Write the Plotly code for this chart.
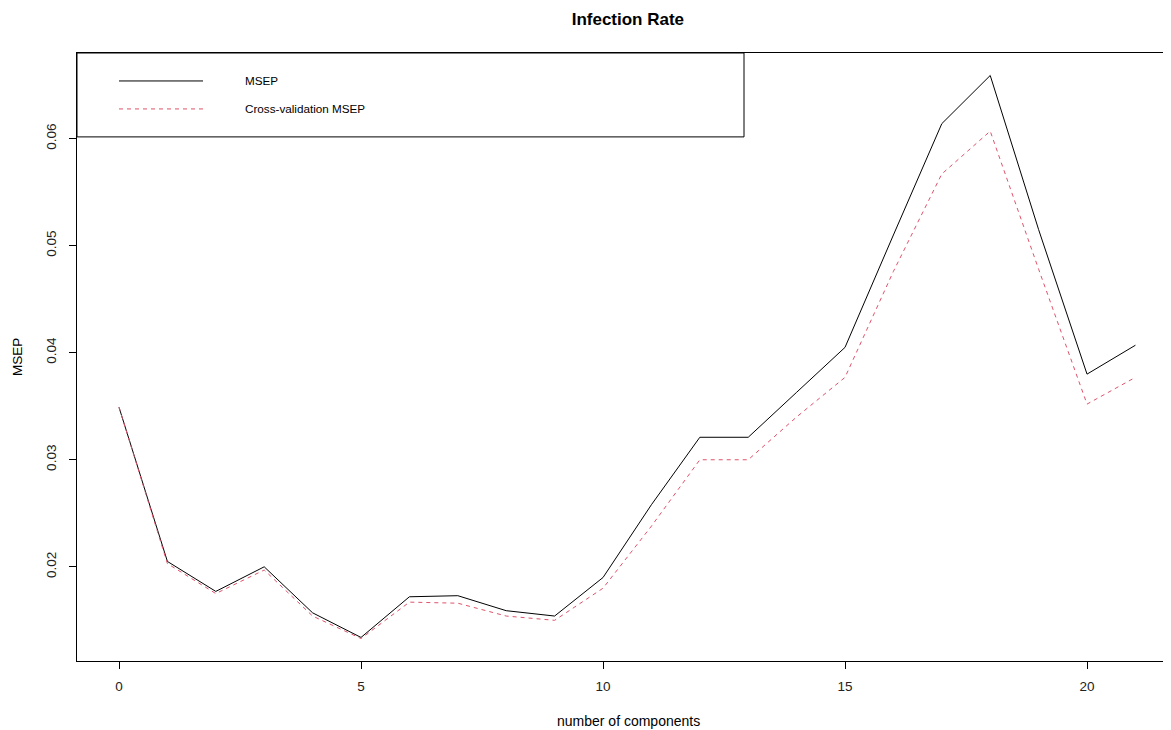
import plotly.graph_objects as go

# number of components vs. prediction error
components = list(range(22))
msep = [0.0349, 0.0205, 0.0177, 0.0200, 0.0157, 0.0134, 0.0172, 0.0173,
        0.0159, 0.0154, 0.0190, 0.0258, 0.0321, 0.0321, 0.0363, 0.0405,
        0.0510, 0.0614, 0.0659, 0.0515, 0.0380, 0.0407]
cv_msep = [0.0349, 0.0203, 0.0175, 0.0197, 0.0154, 0.0133, 0.0167, 0.0166,
           0.0154, 0.0150, 0.0180, 0.0238, 0.0300, 0.0300, 0.0340, 0.0377,
           0.0476, 0.0567, 0.0607, 0.0478, 0.0352, 0.0377]
legend_labels = ["MSEP", "Cross-validation MSEP"]
x_ticks = [0, 5, 10, 15, 20]
y_ticks = [0.02, 0.03, 0.04, 0.05, 0.06]

red = "#DF536B"
font = "Liberation Sans, Arial, sans-serif"

fig = go.Figure()
fig.add_trace(go.Scatter(x=components, y=msep, mode="lines",
                         line=dict(color="black", width=1), name=legend_labels[0]))
fig.add_trace(go.Scatter(x=components, y=cv_msep, mode="lines",
                         line=dict(color=red, width=1, dash="4px,4px"), name=legend_labels[1]))

# hand-drawn legend box like R's legend()
fig.add_shape(type="rect", xref="paper", yref="paper", x0=0, x1=0.6097, y0=0.862, y1=1,
              line=dict(color="black", width=1), fillcolor="rgba(0,0,0,0)")
fig.add_shape(type="line", xref="paper", yref="paper", x0=0.0384, x1=0.1152, y0=0.954, y1=0.954,
              line=dict(color="black", width=1))
fig.add_shape(type="line", xref="paper", yref="paper", x0=0.0384, x1=0.1152, y0=0.908, y1=0.908,
              line=dict(color=red, width=1, dash="4px,4px"))
for lab, yy in zip(legend_labels, [0.954, 0.908]):
    fig.add_annotation(text=lab, xref="paper", yref="paper", x=0.1517, y=yy,
                       xanchor="left", yanchor="middle", showarrow=False,
                       font=dict(size=11.7, color="black", family=font))

fig.add_annotation(text="MSEP", xref="paper", yref="paper", x=-0.0548, y=0.5,
                   textangle=-90, showarrow=False, xanchor="center", yanchor="middle",
                   font=dict(size=13.5, color="black", family=font))
fig.add_annotation(text="number of components", xref="paper", yref="paper", x=0.5037, y=-0.0995,
                   showarrow=False, xanchor="center", yanchor="middle",
                   font=dict(size=14, color="black", family=font))

# page body has an 8px margin, so the margins are shifted by that
fig.update_layout(
    width=1163, height=730,
    margin=dict(l=69, r=0, t=45, b=77),
    paper_bgcolor="white", plot_bgcolor="white",
    showlegend=False,
    title=dict(text="<b>Infection Rate</b>", x=0.533, y=0.985, xanchor="center", yanchor="middle",
               font=dict(size=17, color="black", family=font)),
    font=dict(family=font, color="#222", size=13.5),
)
fig.update_xaxes(range=[-0.868, 21.735], tickvals=x_ticks, showgrid=False, zeroline=False,
                 showline=True, linecolor="black", linewidth=1, mirror=True,
                 ticks="outside", ticklen=7, tickcolor="black", ticklabelstandoff=6)
fig.update_yaxes(range=[0.0112, 0.0680], tickvals=y_ticks, ticktext=[f"{v:.2f}" for v in y_ticks],
                 tickangle=-90, showgrid=False, zeroline=False,
                 showline=True, linecolor="black", linewidth=1,
                 ticks="outside", ticklen=7, tickcolor="black", ticklabelstandoff=8)

fig.write_html("out.html")
